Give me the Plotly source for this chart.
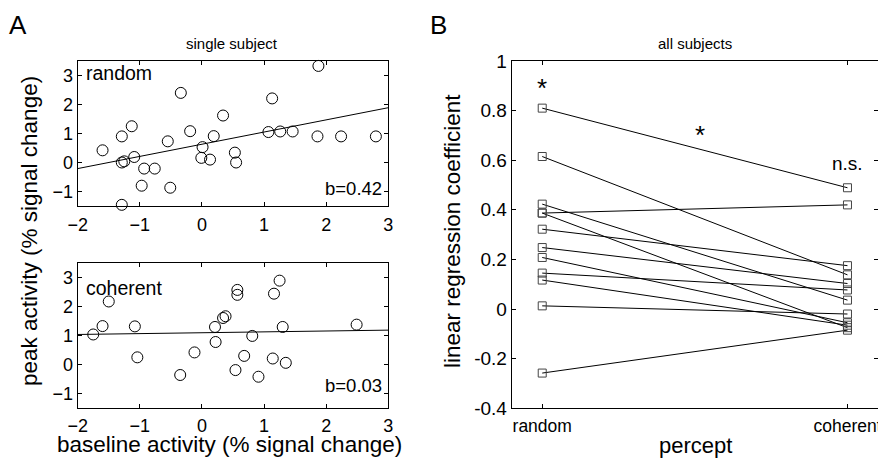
import plotly.graph_objects as go

# ---------------- data ----------------
# Panel A, single subject, "random" percept
rand_baseline = [1.875, -1.60, -1.29, -1.13, -1.29, -1.25, -1.09, -0.93, -0.76, -0.97,
                 -0.51, -1.29, -0.34, -0.55, -0.19, 0.01, -0.01, 0.13, 0.19, 0.34,
                 0.53, 0.55, 1.07, 1.13, 1.26, 1.46, 1.86, 2.24, 2.80]
rand_peak = [3.33, 0.42, 0.90, 1.25, 0.00, 0.04, 0.19, -0.21, -0.21, -0.80,
             -0.87, -1.46, 2.40, 0.73, 1.08, 0.53, 0.16, 0.10, 0.91, 1.62,
             0.34, 0.00, 1.05, 2.21, 1.07, 1.07, 0.90, 0.90, 0.90]
rand_slope = 0.42
rand_intercept = 0.63

# Panel A, single subject, "coherent" percept
coh_baseline = [-1.75, -1.60, -1.50, -1.08, -1.04, -0.35, -0.12, 0.21, 0.22, 0.34,
                0.38, 0.57, 0.57, 0.54, 0.68, 0.81, 0.91, 1.16, 1.25, 1.14,
                1.30, 1.35, 2.49]
coh_peak = [1.03, 1.32, 2.17, 1.31, 0.24, -0.37, 0.41, 1.29, 0.77, 1.60,
            1.66, 2.57, 2.40, -0.20, 0.29, 0.98, -0.43, 2.44, 2.89, 0.20,
            1.29, 0.05, 1.37]
coh_slope = 0.03
coh_intercept = 1.09

# Panel B, all subjects: linear regression coefficient per percept
percepts = ["random", "coherent"]
coef_random = [0.81, 0.615, 0.423, 0.387, 0.387, 0.322, 0.248, 0.208, 0.145, 0.117, 0.013, -0.258]
coef_coherent = [0.489, 0.138, 0.036, 0.42, -0.075, 0.175, 0.103, -0.055, 0.077, -0.065, -0.02, -0.085]

xticks_A = [-2, -1, 0, 1, 2, 3]
yticks_A = [-1, 0, 1, 2, 3]
yticks_B = [-0.4, -0.2, 0, 0.2, 0.4, 0.6, 0.8, 1]
yticklabels_B = ["-0.4", "-0.2", "0", "0.2", "0.4", "0.6", "0.8", "1"]

# ---------------- figure ----------------
FONT = "Liberation Sans, Arial, Helvetica, sans-serif"
W, H = 886, 459
OFF = 8  # page body margin offset

def px_x(p):
    return (p - OFF) / W

def px_y(p):
    return 1 - (p - OFF) / H

fig = go.Figure()

circ = dict(symbol="circle-open", size=11, color="black", line=dict(width=1, color="black"))

# top-left scatter
fig.add_trace(go.Scatter(x=rand_baseline, y=rand_peak, mode="markers", marker=circ,
                         xaxis="x", yaxis="y", showlegend=False, cliponaxis=False))
lx = [-2, 3]
fig.add_trace(go.Scatter(x=lx, y=[rand_intercept + rand_slope * v for v in lx], mode="lines",
                         line=dict(color="black", width=1), xaxis="x", yaxis="y", showlegend=False))

# bottom-left scatter
fig.add_trace(go.Scatter(x=coh_baseline, y=coh_peak, mode="markers", marker=circ,
                         xaxis="x2", yaxis="y2", showlegend=False, cliponaxis=False))
fig.add_trace(go.Scatter(x=lx, y=[coh_intercept + coh_slope * v for v in lx], mode="lines",
                         line=dict(color="black", width=1), xaxis="x2", yaxis="y2", showlegend=False))

# panel B lines
for r, c in zip(coef_random, coef_coherent):
    fig.add_trace(go.Scatter(x=[1, 2], y=[r, c], mode="lines+markers",
                             line=dict(color="black", width=1),
                             marker=dict(symbol="square-open", size=8, color="#444444",
                                         line=dict(width=1, color="#444444")),
                             xaxis="x3", yaxis="y3", showlegend=False, cliponaxis=False))

def axis_style(size, standoff=0):
    d = dict(showline=True, linecolor="black", linewidth=1, mirror="allticks",
             ticks="inside", ticklen=4, tickcolor="black", showgrid=False,
             zeroline=False, automargin=False,
             tickfont=dict(size=size, color="black", family=FONT))
    if standoff:
        d["ticklabelstandoff"] = standoff
    return d

top_dom = [px_y(206), px_y(61)]
bot_dom = [px_y(407.7), px_y(263)]
A_dom = [px_x(77.7), px_x(388.3)]
B_dom = [px_x(511.7), px_x(878)]

fig.update_layout(
    template="none",
    width=W, height=H,
    margin=dict(l=0, r=0, t=0, b=0, autoexpand=False),
    paper_bgcolor="white", plot_bgcolor="white",
    font=dict(family=FONT, color="black"),
    xaxis=dict(domain=A_dom, range=[-2, 3], tickvals=xticks_A, anchor="y", **axis_style(18, 2)),
    yaxis=dict(domain=top_dom, range=[-1.5, 3.5], tickvals=yticks_A, anchor="x", **axis_style(18)),
    xaxis2=dict(domain=A_dom, range=[-2, 3], tickvals=xticks_A, anchor="y2", **axis_style(18, 2)),
    yaxis2=dict(domain=bot_dom, range=[-1.5, 3.5], tickvals=yticks_A, anchor="x2", **axis_style(18)),
    xaxis3=dict(domain=B_dom, range=[0.9, 2.1], tickvals=[1, 2], ticktext=percepts, anchor="y3",
                **axis_style(17.5, 2)),
    yaxis3=dict(domain=[px_y(408.3), px_y(61)], range=[-0.4, 1], tickvals=yticks_B,
                ticktext=yticklabels_B, anchor="x3", **axis_style(19)),
)

ann = []
def paper_text(text, x, y, size, **kw):
    ann.append(dict(text=text, x=px_x(x), y=px_y(y), xref="paper", yref="paper",
                    xanchor="center", yanchor="middle",
                    showarrow=False, font=dict(size=size, color="black", family=FONT), **kw))

paper_text("A", 18, 25, 26)
paper_text("B", 438, 25, 26)
paper_text("single subject", 232, 44, 15)
paper_text("all subjects", 695, 44, 15)
paper_text("peak activity (% signal change)", 29, 231, 22.5, textangle=-90)
paper_text("baseline activity (% signal change)", 229, 444, 22.5)
paper_text("linear regression coefficient", 452, 231, 22.5, textangle=-90)
paper_text("percept", 695, 445, 22)

def data_text(text, x, y, xr, yr, size, xanchor="center"):
    ann.append(dict(text=text, x=x, y=y, xref=xr, yref=yr, showarrow=False,
                    xanchor=xanchor, yanchor="middle",
                    font=dict(size=size, color="black", family=FONT)))

data_text("random", -1.9, 3.09, "x", "y", 19.5, xanchor="left")
data_text("b=0.42", 2.93, -0.91, "x", "y", 18.5, xanchor="right")
data_text("coherent", -1.9, 2.65, "x2", "y2", 19.5, xanchor="left")
data_text("b=0.03", 2.93, -0.75, "x2", "y2", 18.5, xanchor="right")
data_text("*", 1.0, 0.89, "x3", "y3", 26)
data_text("*", 1.517, 0.70, "x3", "y3", 26)
data_text("n.s.", 2.0, 0.585, "x3", "y3", 19)

fig.update_layout(annotations=ann)
fig.write_html("out.html")
